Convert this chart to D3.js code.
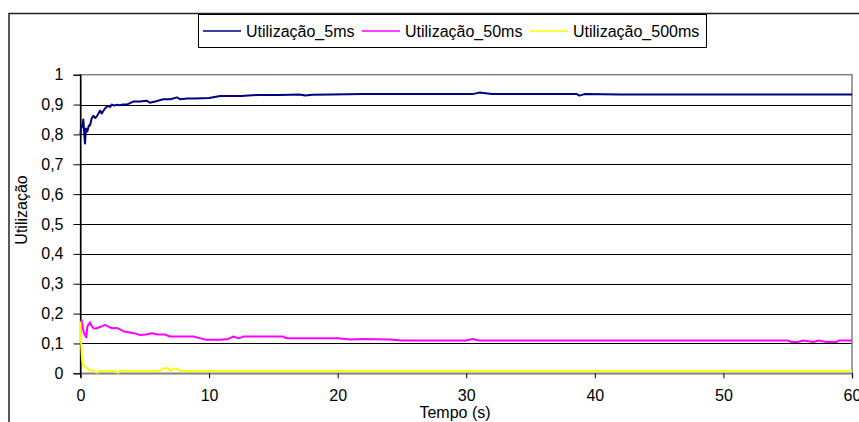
<!DOCTYPE html>
<html><head><meta charset="utf-8">
<script src="https://cdn.jsdelivr.net/npm/d3@7"></script>
<style>body{margin:0;background:#fff}svg{display:block;font-family:Arial,"Liberation Sans",sans-serif}</style>
</head><body><svg id="c" width="859" height="422"></svg>
<script>
const seriesNames = ["Utilização_5ms", "Utilização_50ms", "Utilização_500ms"];
const seriesColors = ["#000080", "#FF00FF", "#FFFF00"];
const t5 = [0,0.04,0.15,0.22,0.28,0.35,0.42,0.53,0.65,0.74,0.87,1.0,1.15,1.26,1.4,1.52,1.65,1.8,1.9,2.05,2.16,2.3,2.43,2.6,2.8,3.07,3.3,3.6,4.1,4.6,5.15,5.4,5.8,6.44,7.0,7.5,7.74,8.3,8.9,10.0,10.85,12.5,13.8,15.5,17.0,17.5,18.0,19.5,22,25,28,30.5,31,31.5,32,35,38.6,38.8,39.2,42,45,50,55,60];
const v5 = [0.80,0.82,0.83,0.85,0.81,0.77,0.82,0.81,0.83,0.83,0.854,0.862,0.855,0.86,0.87,0.88,0.87,0.88,0.887,0.893,0.895,0.892,0.9,0.897,0.899,0.898,0.9,0.9,0.91,0.91,0.913,0.906,0.91,0.918,0.918,0.924,0.918,0.92,0.92,0.922,0.929,0.929,0.932,0.932,0.934,0.93,0.933,0.934,0.935,0.935,0.935,0.935,0.94,0.938,0.935,0.935,0.935,0.93,0.935,0.934,0.934,0.934,0.934,0.934];
const t50 = [0,0.04,0.09,0.17,0.27,0.35,0.45,0.53,0.74,0.85,1.0,1.2,1.52,1.7,1.9,2.1,2.43,2.81,3.07,3.46,3.98,4.37,4.63,5.1,5.54,6.0,6.57,6.96,8.77,9.81,10.85,11.5,11.88,12.3,12.66,15.77,16.03,17.07,20,21,22,24,25,30,30.5,31,35,40,48,55,55.3,55.8,56.2,57,57.4,58,58.8,59,60];
const v50 = [0.175,0.176,0.178,0.156,0.134,0.128,0.12,0.156,0.171,0.16,0.151,0.15,0.155,0.158,0.162,0.158,0.151,0.152,0.147,0.139,0.136,0.132,0.128,0.13,0.134,0.13,0.13,0.123,0.123,0.112,0.112,0.115,0.123,0.117,0.123,0.123,0.117,0.117,0.117,0.113,0.115,0.113,0.11,0.11,0.115,0.11,0.11,0.11,0.11,0.11,0.105,0.105,0.11,0.105,0.11,0.105,0.105,0.11,0.11];
const t500 = [0,0.04,0.12,0.22,0.37,0.61,1.0,1.3,1.52,2.5,2.94,3.07,6.18,6.44,6.83,6.96,7.22,7.5,7.74,60];
const v500 = [0.173,0.11,0.045,0.028,0.022,0.013,0.008,0.002,0.008,0.008,0.002,0.008,0.008,0.017,0.017,0.008,0.015,0.015,0.008,0.008];
const yTicks = [0,0.1,0.2,0.3,0.4,0.5,0.6,0.7,0.8,0.9,1];
const xTicks = [0,10,20,30,40,50,60];
const xTitle = "Tempo (s)";
const yTitle = "Utilização";

const svg = d3.select("#c");
const X0 = 80.5, X1 = 852, Y0 = 373.3, Y1 = 74.7;
const x = d3.scaleLinear().domain([0,60]).range([X0,X1]);
const y = d3.scaleLinear().domain([0,1]).range([Y0,Y1]);
const fmt = d => d3.format(".1~f")(d).replace(".", ",");

svg.append("rect").attr("x",9).attr("y",13.5).attr("width",900).attr("height",500)
  .attr("fill","none").attr("stroke","#222").attr("stroke-width",1.5);

svg.append("g").selectAll("line").data(yTicks.filter(d=>d>0 && d<1)).join("line")
  .attr("x1",X0).attr("x2",X1).attr("y1",d=>Math.round(y(d))+0.5).attr("y2",d=>Math.round(y(d))+0.5)
  .attr("stroke","#000").attr("stroke-width",1);
svg.append("rect").attr("x",X0).attr("y",y(1)).attr("width",X1-X0).attr("height",Y0-y(1))
  .attr("fill","none").attr("stroke","#808080").attr("stroke-width",1.5);

const ya = svg.append("g").attr("transform",`translate(${X0},0)`)
  .call(d3.axisLeft(y).tickValues(yTicks).tickFormat(fmt).tickSize(7).tickPadding(10));
ya.select(".domain").attr("stroke","#000");
ya.selectAll(".tick line").attr("stroke","#000");
ya.selectAll("text").attr("font-size",16).attr("fill","#000").attr("font-family","Arial, 'Liberation Sans', sans-serif");
const xa = svg.append("g").attr("transform",`translate(0,${Y0})`)
  .call(d3.axisBottom(x).tickValues(xTicks).tickFormat(d3.format("d")).tickSize(5).tickPadding(11));
xa.select(".domain").attr("stroke","#808080").attr("stroke-width",1.5);
xa.selectAll(".tick line").attr("stroke","#000");
xa.selectAll("text").attr("font-size",16).attr("fill","#000").attr("font-family","Arial, 'Liberation Sans', sans-serif");
svg.append("line").attr("x1",X0).attr("x2",X0).attr("y1",Y1).attr("y2",Y0+4).attr("stroke","#000");

const series = [[t5,v5],[t50,v50],[t500,v500]];
const line = d3.line().x(d=>x(d[0])).y(d=>y(d[1]));
series.forEach((s,i)=>{
  const pts = s[0].map((t,j)=>[t,s[1][j]]);
  svg.append("path").datum(pts).attr("d",line).attr("fill","none")
    .attr("stroke",seriesColors[i]).attr("stroke-width",2).attr("stroke-linejoin","round");
});

svg.append("text").attr("x",455).attr("y",417.5).attr("text-anchor","middle")
  .attr("font-size",16).text(xTitle);
svg.append("text").attr("transform","translate(27,210) rotate(-90)").attr("text-anchor","middle")
  .attr("font-size",16).text(yTitle);

const lg = svg.append("g");
lg.append("rect").attr("x",198.5).attr("y",14.5).attr("width",508).attr("height",33)
  .attr("fill","#fff").attr("stroke","#000").attr("stroke-width",1);
const lx = [203,362,530];
seriesNames.forEach((n,i)=>{
  lg.append("line").attr("x1",lx[i]).attr("x2",lx[i]+38).attr("y1",31).attr("y2",31)
    .attr("stroke",seriesColors[i]).attr("stroke-width",1.5);
  lg.append("text").attr("x",lx[i]+43).attr("y",36.5).attr("font-size",16).text(n);
});
</script></body></html>
